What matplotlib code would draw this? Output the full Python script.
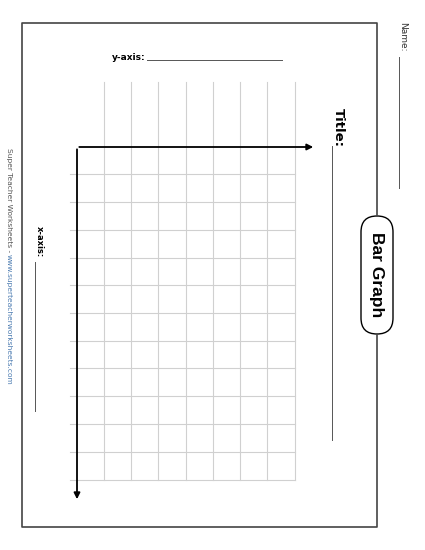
import matplotlib.pyplot as plt
from matplotlib.patches import FancyBboxPatch

# blank grid: column and row lines (pixel coordinates of the sheet)
col_lines = [104, 131, 158, 186, 213, 240, 267, 295]
row_lines = [174, 202, 230, 258, 285, 313, 341, 368, 396, 424, 452, 480]
grid_top, grid_left = 82, 70

fig = plt.figure(figsize=(4.25, 5.5), dpi=100, facecolor='white')
ax = fig.add_axes([0, 0, 1, 1])
ax.set_xlim(0, 425)
ax.set_ylim(550, 0)
ax.axis('off')

for x in col_lines:
    ax.plot([x, x], [grid_top, row_lines[-1]], color='#d0d0d0', lw=0.8, zorder=1)
for y in row_lines:
    ax.plot([grid_left, col_lines[-1]], [y, y], color='#d0d0d0', lw=0.8, zorder=1)

# axes arrows
ax.annotate('', xy=(316, 147), xytext=(76.5, 147),
            arrowprops=dict(arrowstyle='-|>', color='black', lw=1.3, mutation_scale=9))
ax.annotate('', xy=(77, 502), xytext=(77, 146.5),
            arrowprops=dict(arrowstyle='-|>', color='black', lw=1.3, mutation_scale=9))

# border with gap for the label pill
bc = '#444444'
ax.plot([377, 377, 22, 22, 377, 377], [215, 23, 23, 527, 527, 335], color=bc, lw=1.2)
pill = FancyBboxPatch((361, 216), 32, 118, boxstyle='round,pad=0,rounding_size=16',
                      fc='white', ec='black', lw=1.0)
ax.add_patch(pill)
ax.text(377, 275, 'Bar Graph', rotation=270, ha='center', va='center',
        fontsize=12.5, fontweight='bold', family='Liberation Sans')

# labels
ax.text(112, 57, 'y-axis:', ha='left', va='center', fontsize=6.5, fontweight='bold')
ax.plot([147, 282], [59.5, 59.5], color='#555555', lw=0.7)
ax.text(338, 108, 'Title:', rotation=270, ha='center', va='top', fontsize=9.5, fontweight='bold')
ax.plot([332, 332], [146, 440], color='#555555', lw=0.7)
ax.text(403, 22, 'Name:', rotation=270, ha='center', va='top', fontsize=6.5, color='#333333')
ax.plot([399.5, 399.5], [57, 188], color='#555555', lw=0.7)
ax.text(39, 226, 'x-axis:', rotation=270, ha='center', va='top', fontsize=6, fontweight='bold')
ax.plot([35.5, 35.5], [262, 411], color='#555555', lw=0.7)

ax.text(9, 148, 'Super Teacher Worksheets - ', rotation=270, ha='center', va='top',
        fontsize=5.4, color='#555555')
ax.text(9, 254, 'www.superteacherworksheets.com', rotation=270, ha='center', va='top',
        fontsize=5.4, color='#4a7ab0')

fig.savefig('out.png', dpi=100, facecolor='white')
